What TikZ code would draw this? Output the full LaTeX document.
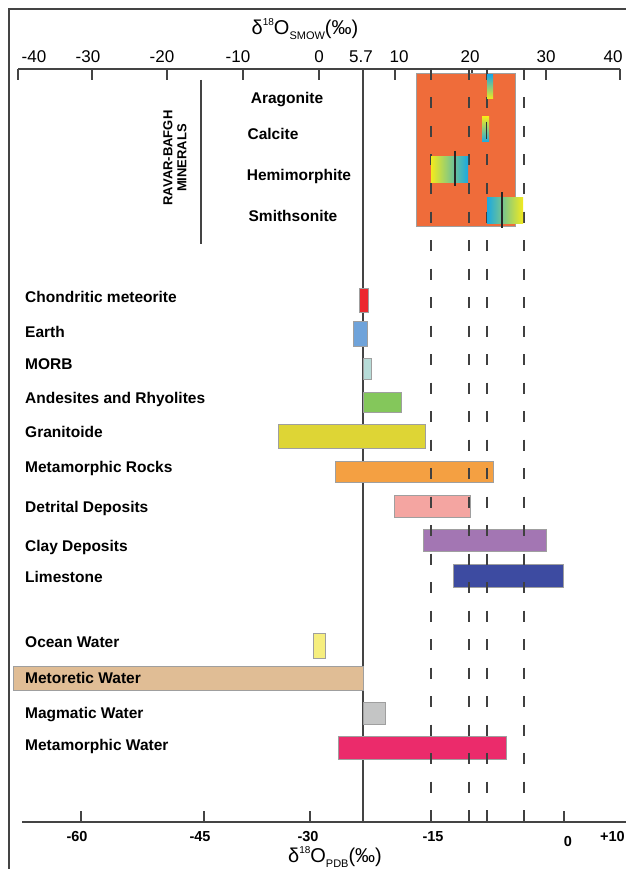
\documentclass[tikz,border=0pt]{standalone}
\usepackage{fontspec}
\setmainfont{Liberation Sans}
\usepackage{tikz}
\usetikzlibrary{positioning}
\definecolor{framegray}{RGB}{68, 68, 68}
\definecolor{boxorange}{RGB}{239, 108, 58}
\definecolor{gradcyan}{RGB}{27, 169, 225}
\definecolor{gradyellow}{RGB}{242, 234, 30}
\definecolor{chondred}{RGB}{236, 40, 46}
\definecolor{earthblue}{RGB}{111, 163, 218}
\definecolor{morbteal}{RGB}{183, 220, 216}
\definecolor{andesgreen}{RGB}{132, 199, 91}
\definecolor{granyellow}{RGB}{222, 213, 53}
\definecolor{rockorange}{RGB}{244, 160, 66}
\definecolor{detpink}{RGB}{244, 165, 161}
\definecolor{claypurple}{RGB}{163, 118, 179}
\definecolor{limeblue}{RGB}{61, 75, 161}
\definecolor{oceanyellow}{RGB}{246, 238, 126}
\definecolor{meteotan}{RGB}{224, 189, 149}
\definecolor{magmagray}{RGB}{196, 197, 197}
\definecolor{metared}{RGB}{235, 43, 107}

\begin{document}
\begin{tikzpicture}[x=1pt, y=-1pt,
  lbl/.style={anchor=west, inner sep=0pt, text height=11pt, text depth=0pt, font=\fontsize{15.5}{18}\selectfont\bfseries},
  minlbl/.style={inner sep=0pt, text height=11pt, text depth=0pt, font=\fontsize{15.5}{18}\selectfont\bfseries},
  toplbl/.style={inner sep=0pt, text height=12pt, text depth=0pt, font=\fontsize{17}{20}\selectfont},
  botlbl/.style={inner sep=0pt, text height=10.5pt, text depth=0pt, font=\fontsize{14.5}{17}\selectfont\bfseries},
  bar/.style={draw=gray!75, line width=0.8pt},
  axis/.style={draw=framegray, line width=1.2pt},
  guide/.style={draw=black!75, line width=1.2pt, dash pattern=on 11pt off 17.5pt}
]
  \useasboundingbox (0,0) rectangle (626,869);
  \fill[white] (0,0) rectangle (626,869);
  \draw[framegray, line width=2.5pt] (9,869) -- (9,9) -- (626,9);

  % SMOW scale on top
  \node (smowtitle) at (305,29) {\fontsize{20}{24}\selectfont δ\raisebox{0.85ex}{\fontsize{10}{12}\selectfont 18}O\raisebox{-0.45ex}{\fontsize{11}{12}\selectfont SMOW}(‰)};
  \draw[axis] (18,69) -- (620,69);
  \draw[axis] (18,69) -- ++(0,11) (92,69) -- ++(0,11) (167,69) -- ++(0,11) (243,69) -- ++(0,11)
    (319,69) -- ++(0,11) (395,69) -- ++(0,11) (472,69) -- ++(0,11) (546,69) -- ++(0,11) (620,69) -- ++(0,11);
  \node[toplbl] (s-40) at (34,57) {-40};
  \node[toplbl] (s-30) at (88,57) {-30};
  \node[toplbl] (s-20) at (162,57) {-20};
  \node[toplbl] (s-10) at (238,57) {-10};
  \node[toplbl] (s0) at (319,57) {0};
  \node[toplbl] (s57) at (361,57) {5.7};
  \node[toplbl] (s10) at (399,57) {10};
  \node[toplbl] (s20) at (470,57) {20};
  \node[toplbl] (s30) at (546,57) {30};
  \node[toplbl] (s40) at (613,57) {40};

  % PDB scale at the bottom
  \draw[axis] (22,822) -- (626,822);
  \draw[axis] (81,822) -- ++(0,-11) (204,822) -- ++(0,-11) (310,822) -- ++(0,-11) (564,822) -- ++(0,-11);
  \node[botlbl] (p-60) at (77,836) {-60};
  \node[botlbl] (p-45) at (200,836) {-45};
  \node[botlbl] (p-30) at (308,836) {-30};
  \node[botlbl] (p-15) at (433,836) {-15};
  \node[botlbl] (p0) at (568,841) {0};
  \node[botlbl, anchor=east] (p10) at (625,836) {+10};
  \node (pdbtitle) at (335,857) {\fontsize{20}{24}\selectfont δ\raisebox{0.85ex}{\fontsize{10}{12}\selectfont 18}O\raisebox{-0.45ex}{\fontsize{11}{12}\selectfont PDB}(‰)};

  % mantle value
  \draw[axis] (363,69) -- (363,822);

  % Ravar-Bafgh minerals
  \node[inner sep=0pt, rotate=90, align=center, font=\fontsize{13}{14}\selectfont\bfseries] (ravar) at (175,158) {RAVAR-BAFGH\\MINERALS};
  \draw[framegray, line width=2pt] (201,80) -- (201,244);
  \node[minlbl] (aragonite) at (287,98) {Aragonite};
  \node[minlbl] (calcite) at (273,134) {Calcite};
  \node[minlbl] (hemimorphite) at (299,175) {Hemimorphite};
  \node[minlbl] (smithsonite) at (293,216) {Smithsonite};
  \draw[bar, fill=boxorange] (416,73) rectangle (515,226);

  % reservoirs
  \node[lbl] (chondrite) at (25,297) {Chondritic meteorite};
  \node[lbl] (earth) at (25,332) {Earth};
  \node[lbl] (morb) at (25,364) {MORB};
  \node[lbl] (andesite) at (25,398) {Andesites and Rhyolites};
  \node[lbl] (granitoide) at (25,432) {Granitoide};
  \node[lbl] (metarock) at (25,467) {Metamorphic Rocks};
  \node[lbl] (detrital) at (25,507) {Detrital Deposits};
  \node[lbl] (clay) at (25,546) {Clay Deposits};
  \node[lbl] (limestone) at (25,577) {Limestone};
  \node[lbl] (ocean) at (25,642) {Ocean Water};
  \draw[bar, fill=meteotan] (13,666) rectangle (363,690);
  \node[lbl] (meteoric) at (25,678) {Metoretic Water};
  \node[lbl] (magmatic) at (25,713) {Magmatic Water};
  \node[lbl] (metawater) at (25,745) {Metamorphic Water};

  \draw[bar, fill=chondred] (359,288) rectangle (368,312);
  \draw[bar, fill=earthblue] (353,321) rectangle (367,346);
  \draw[bar, fill=morbteal] (363,358) rectangle (371,379);
  \draw[bar, fill=andesgreen] (363,392) rectangle (401,412);
  \draw[bar, fill=granyellow] (278,424) rectangle (425,448);
  \draw[bar, fill=rockorange] (335,461) rectangle (493,482);
  \draw[bar, fill=detpink] (394,495) rectangle (470,517);
  \draw[bar, fill=claypurple] (423,529) rectangle (546,551);
  \draw[bar, fill=limeblue] (453,564) rectangle (563,587);
  \draw[bar, fill=oceanyellow] (313,633) rectangle (325,658);
  \draw[bar, fill=magmagray] (363,702) rectangle (385,724);
  \draw[bar, fill=metared] (338,736) rectangle (506,759);

  % dashed guides
  \draw[guide] (431,69) -- (431,822);
  \draw[guide] (469,69) -- (469,822);
  \draw[guide] (487,69) -- (487,822);
  \draw[guide] (524,69) -- (524,822);

  % mineral ranges
  \shade[top color=gradcyan, bottom color=gradyellow] (487,75) rectangle (493,99);
  \shade[top color=gradyellow, bottom color=gradcyan] (482,117) rectangle (489,142);
  \draw[black!80, line width=0.6pt] (486,122) -- (486,139);
  \shade[left color=gradyellow, right color=gradcyan] (431,157) rectangle (468,182);
  \draw[black!85, line width=2pt] (455,151) -- (455,186);
  \shade[left color=gradcyan, right color=gradyellow] (487,197) rectangle (523,223);
  \draw[black!85, line width=2pt] (502,192) -- (502,228);
\end{tikzpicture}
\end{document}
